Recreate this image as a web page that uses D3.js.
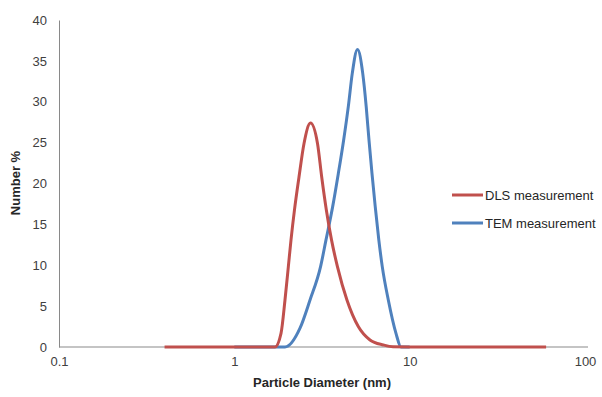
<!DOCTYPE html>
<html>
<head>
<meta charset="utf-8">
<script src="https://cdn.jsdelivr.net/npm/d3@7"></script>
<style>
  body { margin: 0; background: #fff; }
  text { font-family: "Liberation Sans", Arial, sans-serif; }
</style>
</head>
<body>
<svg id="drawing_region"></svg>
<script>
// data (diameter in nm, number %)
const dls_d = [0.4, 1.0, 1.706, 1.846, 1.945, 2.032, 2.105, 2.204, 2.338, 2.497, 2.719, 2.981, 3.15, 3.346, 3.583, 3.876, 4.388, 5.093, 5.94, 7.075, 8.035, 10, 20, 60];
const dls_v = [0, 0, 0, 1.67, 5.75, 9.8, 13.1, 16.8, 20.8, 24.9, 27.4, 24.9, 20.8, 16.8, 13.1, 9.8, 5.75, 2.5, 0.86, 0.25, 0.02, 0, 0, 0];

const tem_d = [1.0, 1.6, 1.945, 2.369, 2.702, 3.101, 3.333, 3.64, 3.917, 4.201, 4.467, 4.708, 5.039, 5.397, 5.651, 5.862, 6.098, 6.36, 6.668, 6.982, 7.554, 8.356, 8.926, 10];
const tem_v = [0, 0, 0, 2.3, 5.75, 9.8, 13.1, 17.2, 21.2, 25.3, 29.4, 33.5, 36.4, 33.5, 29.4, 25.3, 21.2, 17.2, 13.1, 9.8, 5.75, 1.67, 0, 0];

const x_ticks = [0.1, 1, 10, 100];
const y_ticks = [0, 5, 10, 15, 20, 25, 30, 35, 40];

const series = [
    { name: 'DLS measurement', color: '#c0504d', d: dls_d, v: dls_v },
    { name: 'TEM measurement', color: '#4f81bd', d: tem_d, v: tem_v }
];

const width = 602, height = 397;

const svg = d3.select('#drawing_region')
    .attr('width', width)
    .attr('height', height);

const xscale = d3.scaleLog()
    .domain([0.1, 100])
    .range([59, 585]);

const yscale = d3.scaleLinear()
    .domain([0, 40])
    .range([347, 20]);

// axes
const xaxis = d3.axisBottom(xscale)
    .tickValues(x_ticks)
    .tickFormat(d => d)
    .tickSize(0)
    .tickPadding(10);

const yaxis = d3.axisLeft(yscale)
    .tickValues(y_ticks)
    .tickSize(0)
    .tickPadding(12);

const xg = svg.append('g')
    .attr('transform', `translate(0, ${yscale(0)})`)
    .call(xaxis);
xg.select('.domain').attr('stroke', '#898989').attr('d', `M${xscale(0.1)},0H588`);

const yg = svg.append('g')
    .attr('transform', `translate(${xscale(0.1)}, 0)`)
    .call(yaxis);
yg.select('.domain').attr('stroke', '#898989');

svg.selectAll('.tick text')
    .attr('fill', '#404040')
    .style('font-size', '13px');

// lines
const line = d3.line()
    .x(p => xscale(p[0]))
    .y(p => yscale(p[1]))
    .curve(d3.curveMonotoneX);

// blue first so the red sits on top at the baseline
[series[1], series[0]].forEach(s => {
    svg.append('path')
        .datum(s.d.map((d, i) => [d, s.v[i]]))
        .attr('fill', 'none')
        .attr('stroke', s.color)
        .attr('stroke-width', 3)
        .attr('d', line);
});

// axis titles
svg.append('text')
    .attr('x', 322)
    .attr('y', 387)
    .attr('text-anchor', 'middle')
    .attr('font-weight', 'bold')
    .attr('fill', '#262626')
    .style('font-size', '13px')
    .text('Particle Diameter (nm)');

svg.append('text')
    .attr('transform', 'translate(20, 183) rotate(-90)')
    .attr('text-anchor', 'middle')
    .attr('font-weight', 'bold')
    .attr('fill', '#262626')
    .style('font-size', '13px')
    .text('Number %');

// legend
const legend = svg.append('g');
series.forEach((s, i) => {
    const y = 195 + i * 28;
    legend.append('line')
        .attr('x1', 452).attr('x2', 483)
        .attr('y1', y).attr('y2', y)
        .attr('stroke', s.color)
        .attr('stroke-width', 3);
    legend.append('text')
        .attr('x', 485)
        .attr('y', y + 5)
        .attr('fill', '#262626')
        .style('font-size', '13px')
        .text(s.name);
});
</script>
</body>
</html>
